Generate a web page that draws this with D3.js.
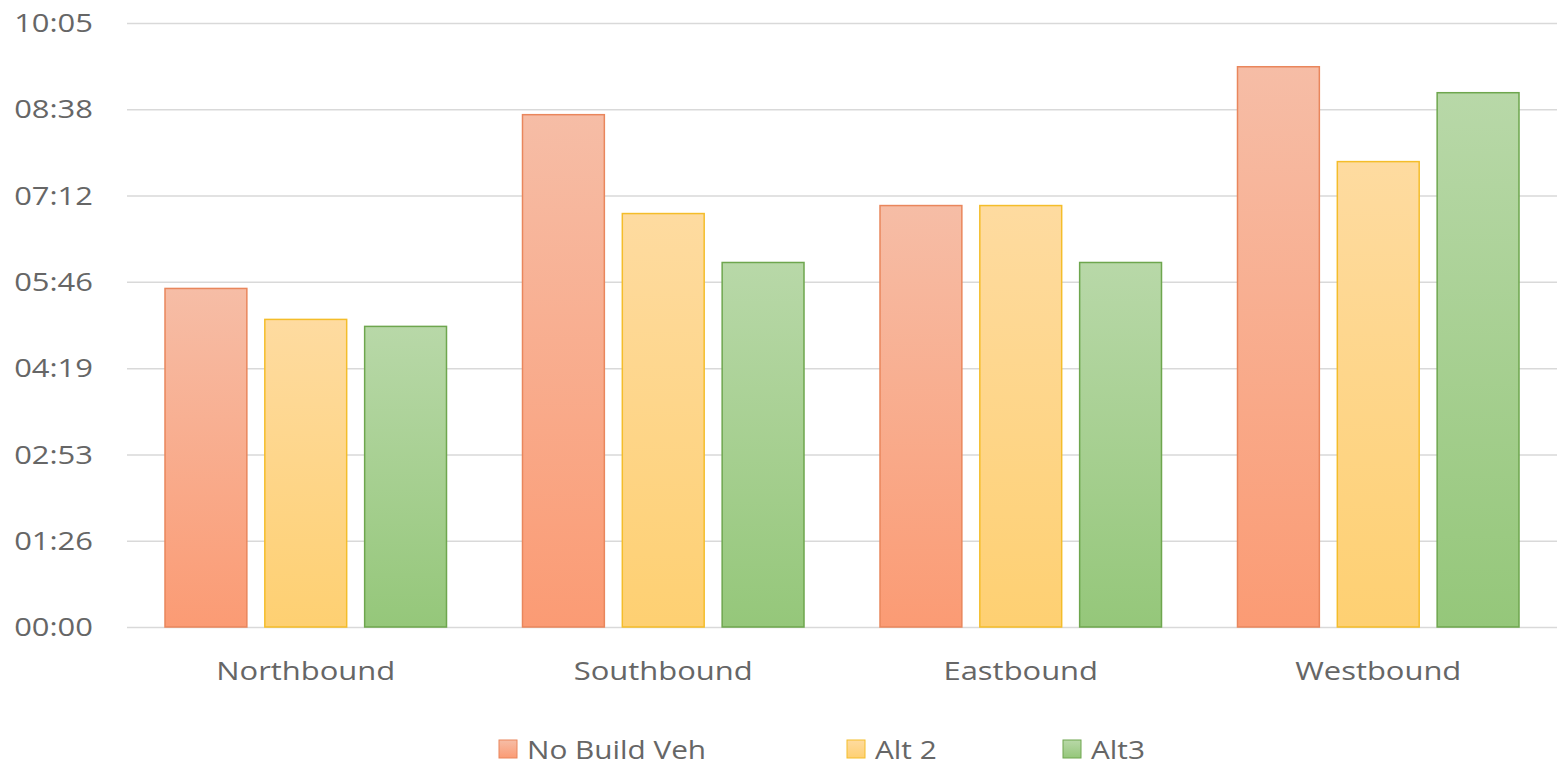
<!DOCTYPE html>
<html>
<head>
<meta charset="utf-8">
<script src="https://cdn.jsdelivr.net/npm/d3@7"></script>
<style>
  body { margin: 0; background: #fff; }
  svg { display: block; font-family: "Open Sans", "DejaVu Sans", sans-serif; }
</style>
</head>
<body>
<svg id="chart" width="1557" height="768"></svg>
<script>
// travel times in seconds
const directions = ["Northbound", "Southbound", "Eastbound", "Westbound"];
const seriesNames = ["No Build Veh", "Alt 2", "Alt3"];
const noBuildVeh = [339, 513, 422, 561];
const alt2 = [308, 414, 422, 466];
const alt3 = [301, 365, 365, 535];
// tick positions are multiples of 0.001 day (86.4 s)
const tickValues = [0, 86.4, 172.8, 259.2, 345.6, 432, 518.4, 604.8];

const colors = [
    {top: "#f6bda6", bottom: "#fb9b74", stroke: "#e9865c"},
    {top: "#fedba0", bottom: "#fed072", stroke: "#f4bd2a"},
    {top: "#b8d8a8", bottom: "#95c77a", stroke: "#6ea64e"}
];

const svg = d3.select("#chart");
const plotLeft = 127, plotRight = 1557, plotTop = 23, plotBottom = 627;
const textColor = "#666666";
const stretch = 1.19; // the source image text is a bit wide

const values = [noBuildVeh, alt2, alt3];
const data = directions.map((d, i) => ({
    dir: d,
    vals: seriesNames.map((s, j) => ({series: j, value: values[j][i]}))
}));

const x0 = d3.scaleBand().domain(directions).range([plotLeft, plotRight]);
const x1 = d3.scaleBand().domain(d3.range(3))
    .range([38, x0.bandwidth() - 38]).paddingInner(0.18);
const y = d3.scaleLinear().domain([0, 604.8]).range([plotBottom, plotTop]);

const fmt = s => {
    const t = Math.round(s);
    return String(Math.floor(t / 60)).padStart(2, "0") + ":" + String(t % 60).padStart(2, "0");
};

// gradients
const defs = svg.append("defs");
colors.forEach((c, i) => {
    const g = defs.append("linearGradient").attr("id", "grad" + i)
        .attr("x1", 0).attr("y1", 0).attr("x2", 0).attr("y2", 1);
    g.append("stop").attr("offset", "0%").attr("stop-color", c.top);
    g.append("stop").attr("offset", "100%").attr("stop-color", c.bottom);
});

// gridlines
svg.append("g")
    .selectAll("line")
    .data(tickValues)
    .enter().append("line")
    .attr("x1", plotLeft).attr("x2", plotRight)
    .attr("y1", d => y(d) + 0.5).attr("y2", d => y(d) + 0.5)
    .attr("stroke", "#d9d9d9")
    .attr("stroke-width", 1.5);

// y labels
svg.append("g")
    .selectAll("text")
    .data(tickValues)
    .enter().append("text")
    .attr("transform", d => "translate(93," + y(d) + ") scale(" + stretch + ",1)")
    .attr("dy", "0.35em")
    .attr("text-anchor", "end")
    .attr("fill", textColor)
    .style("font-size", "26px")
    .text(fmt);

// bars
const groups = svg.append("g")
    .selectAll("g")
    .data(data)
    .enter().append("g")
    .attr("transform", d => "translate(" + x0(d.dir) + ",0)");

groups.selectAll("rect")
    .data(d => d.vals)
    .enter().append("rect")
    .attr("x", d => x1(d.series))
    .attr("y", d => y(d.value))
    .attr("width", x1.bandwidth())
    .attr("height", d => y(0) - y(d.value))
    .attr("fill", d => "url(#grad" + d.series + ")")
    .attr("stroke", d => colors[d.series].stroke)
    .attr("stroke-width", 1.5);

// x labels
svg.append("g")
    .selectAll("text")
    .data(directions)
    .enter().append("text")
    .attr("transform", d => "translate(" + (x0(d) + x0.bandwidth() / 2) + ",671) scale(" + stretch + ",1)")
    .attr("dy", "0.35em")
    .attr("text-anchor", "middle")
    .attr("fill", textColor)
    .style("font-size", "26px")
    .text(d => d);

// legend
const legendX = [499, 847, 1063];
const legend = svg.append("g")
    .selectAll("g")
    .data(seriesNames)
    .enter().append("g")
    .attr("transform", (d, i) => "translate(" + legendX[i] + ",740)");

legend.append("rect")
    .attr("width", 18).attr("height", 18)
    .attr("fill", (d, i) => "url(#grad" + i + ")")
    .attr("stroke", (d, i) => colors[i].stroke)
    .attr("stroke-width", 1);

legend.append("text")
    .attr("transform", "translate(28,10) scale(" + stretch + ",1)")
    .attr("dy", "0.35em")
    .attr("fill", textColor)
    .style("font-size", "25px")
    .text(d => d);
</script>
</body>
</html>
